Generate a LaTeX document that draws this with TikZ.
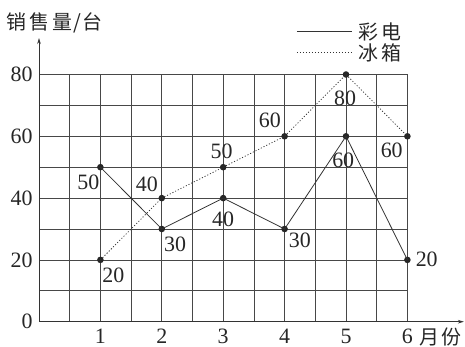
\documentclass[tikz,border=0pt]{standalone}
\usepackage{fontspec}
\newfontfamily\numfont{Liberation Serif}
\newfontfamily\cjk{Noto Sans CJK SC}
\usetikzlibrary{arrows.meta,calc}
\begin{document}
\begin{tikzpicture}[x=30.7bp,y=30.9bp,
  gridline/.style={draw=black!72,line width=0.75bp},
  axisline/.style={draw=black!80,line width=0.8bp,-{Stealth[length=6bp,width=3.6bp]}},
  tvline/.style={draw=black!80,line width=0.8bp},
  fridgeline/.style={draw=black!80,line width=0.75bp,dash pattern=on 1.1bp off 1.9bp},
  dot/.style={circle,fill=black!85,inner sep=0pt,minimum size=6.6bp},
  num/.style={inner sep=0pt,font=\numfont\fontsize{22}{24}\selectfont,text=black!85},
  tick/.style={num,anchor=east},
  cjklbl/.style={inner sep=0pt,font=\cjk\fontsize{20}{22}\selectfont,text=black!85}]
\useasboundingbox (-39bp,-25.3bp) rectangle (426bp,321.7bp);
% grid
\foreach \i in {1,...,12} \draw[gridline] (\i,0) -- (\i,8);
\foreach \j in {1,...,8} \draw[gridline] (0,\j) -- (12,\j);
% axes
\coordinate (O) at (0,0);
\coordinate (ytop) at (0,9.18);
\coordinate (xend) at (13.84,0);
\draw[axisline] (O) -- (ytop);
\draw[axisline] (O) -- (xend);
% y tick labels
\node[tick] (y0) at (-0.2,0) {0};
\node[tick] (y20) at (-0.2,2) {20};
\node[tick] (y40) at (-0.2,4) {40};
\node[tick] (y60) at (-0.2,6) {60};
\node[tick] (y80) at (-0.2,8) {80};
% x tick labels
\node[num] (m1) at (2,-0.48) {1};
\node[num] (m2) at (4,-0.48) {2};
\node[num] (m3) at (6,-0.48) {3};
\node[num] (m4) at (8,-0.48) {4};
\node[num] (m5) at (10,-0.48) {5};
\node[num] (m6) at (12,-0.48) {6};
\node[cjklbl,anchor=west] (unitx) at (12.40,-0.48) {月\kern2bp 份};
% title
\node[cjklbl,anchor=west] (title) at (-1.05,9.68) {销\kern3bp 售\kern3bp 量\kern1bp/\kern1bp 台};
% legend
\coordinate (la) at (8.40,9.39);
\coordinate (lb) at (10.20,9.39);
\coordinate (lc) at (8.40,8.70);
\coordinate (ld) at (10.20,8.70);
\draw[tvline] (la) -- (lb);
\draw[fridgeline] (lc) -- (ld);
\node[cjklbl,anchor=west] (legtv) at (10.39,9.39) {彩\kern3bp 电};
\node[cjklbl,anchor=west] (legfr) at (10.39,8.70) {冰\kern3bp 箱};
% data points: TV (solid)
\node[dot] (a1) at (2,5) {};
\node[dot] (a2) at (4,3) {};
\node[dot] (a3) at (6,4) {};
\node[dot] (a4) at (8,3) {};
\node[dot] (a5) at (10,6) {};
\node[dot] (a6) at (12,2) {};
% data points: fridge (dotted)
\node[dot] (b1) at (2,2) {};
\node[dot] (b2) at (4,4) {};
\node[dot] (b3) at (6,5) {};
\node[dot] (b4) at (8,6) {};
\node[dot] (b5) at (10,8) {};
\node[dot] (b6) at (12,6) {};
\draw[tvline] (a1.center) -- (a2.center) -- (a3.center) -- (a4.center) -- (a5.center) -- (a6.center);
\draw[fridgeline] (b1.center) -- (b2.center) -- (b3.center) -- (b4.center) -- (b5.center) -- (b6.center);
% value labels
\node[num] (ta1) at ($(a1)+(-0.39,-0.50)$) {50};
\node[num] (ta2) at ($(a2)+(0.43,-0.49)$) {30};
\node[num] (ta3) at ($(a3)+(0,-0.68)$) {40};
\node[num] (ta4) at ($(a4)+(0.50,-0.38)$) {30};
\node[num] (ta5) at ($(a5)+(-0.09,-0.79)$) {60};
\node[num] (ta6) at ($(a6)+(0.63,0.03)$) {20};
\node[num] (tb1) at ($(b1)+(0.42,-0.49)$) {20};
\node[num] (tb2) at ($(b2)+(-0.49,0.46)$) {40};
\node[num] (tb3) at ($(b3)+(-0.05,0.50)$) {50};
\node[num] (tb4) at ($(b4)+(-0.48,0.53)$) {60};
\node[num] (tb5) at ($(b5)+(-0.03,-0.77)$) {80};
\node[num] (tb6) at ($(b6)+(-0.51,-0.44)$) {60};
\end{tikzpicture}
\end{document}
